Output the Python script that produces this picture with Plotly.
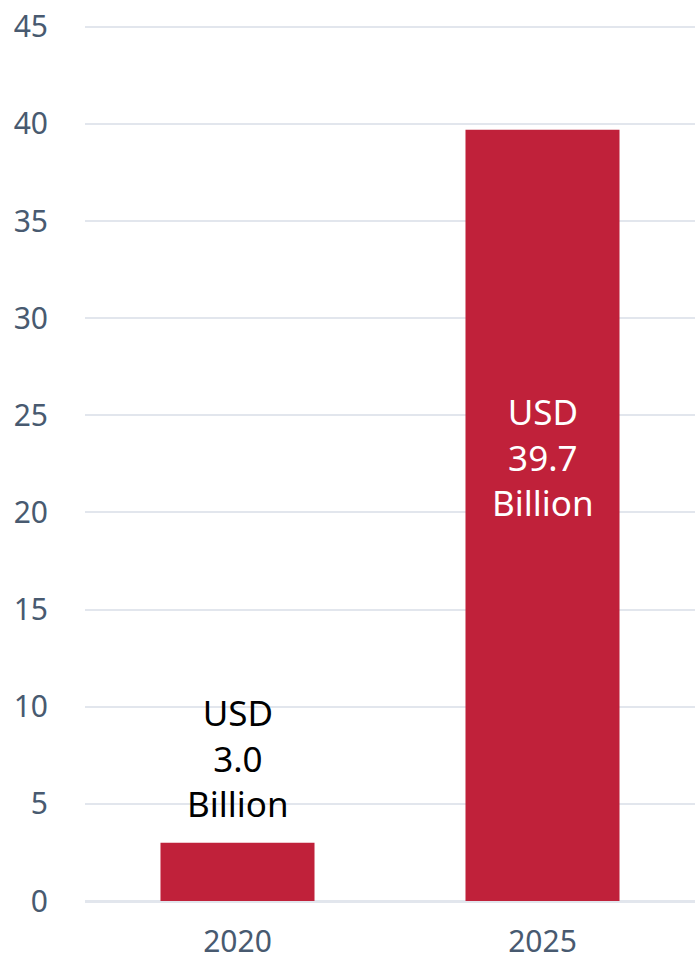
import plotly.graph_objects as go

years = ["2020", "2025"]
values = [3.0, 39.7]
labels = ["USD<br>3.0<br>Billion", "USD<br>39.7<br>Billion"]
y_ticks = [0, 5, 10, 15, 20, 25, 30, 35, 40, 45]

bar_color = "#C0213A"
tick_color = "#485A70"
grid_color = "#E2E6ED"
font_family = "Noto Sans"

fig = go.Figure()
fig.add_trace(go.Bar(
    x=years, y=values,
    marker=dict(color=bar_color, line=dict(width=0)),
    hoverinfo="skip",
))

# 2020 label: above bar; 2025 label: inside bar in white
fig.add_annotation(x=0, y=values[0], text=labels[0], showarrow=False,
                   yanchor="bottom", yshift=14,
                   font=dict(family=font_family, size=35, color="#000000"))
fig.add_annotation(x=1, y=values[1] / 2, text=labels[1], showarrow=False,
                   yanchor="middle", yshift=58,
                   font=dict(family=font_family, size=35, color="#FFFFFF"))

fig.update_layout(
    width=695, height=960,
    margin=dict(l=85, r=0, t=21, b=59),
    paper_bgcolor="white", plot_bgcolor="white",
    bargap=0.495,
    showlegend=False,
    font=dict(family=font_family, color=tick_color),
    xaxis=dict(
        type="category", range=[-0.5, 1.5],
        tickfont=dict(size=30, color=tick_color),
        showgrid=False, showline=False, zeroline=False, automargin=False,
        ticks="outside", ticklen=14, tickcolor="rgba(0,0,0,0)",
    ),
    yaxis=dict(
        range=[0, 45.3], tickvals=y_ticks,
        tickfont=dict(size=30, color=tick_color),
        showgrid=True, gridcolor=grid_color, gridwidth=2,
        zeroline=True, zerolinecolor=grid_color, zerolinewidth=3,
        showline=False, automargin=False,
        ticks="outside", ticklen=30, tickcolor="rgba(0,0,0,0)",
    ),
)

fig.write_html("out.html")
